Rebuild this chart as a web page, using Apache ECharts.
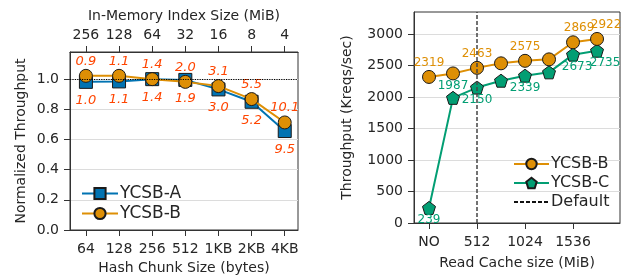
<!DOCTYPE html>
<html>
<head>
<meta charset="utf-8">
<script src="https://cdn.jsdelivr.net/npm/echarts@6/dist/echarts.min.js"></script>
<style>
  html, body { margin: 0; padding: 0; background: #fff; }
  #chart { width: 624px; height: 277px; }
</style>
</head>
<body>
<div id="chart"></div>
<script>
// left panel
var chunkSizes = ['64', '128', '256', '512', '1KB', '2KB', '4KB'];
var indexSizes = ['256', '128', '64', '32', '16', '8', '4'];
var ycsbA = [0.982, 0.985, 1.0, 0.995, 0.932, 0.85, 0.656];
var ycsbB = [1.022, 1.022, 1.0, 0.982, 0.954, 0.868, 0.713];
var ratioA = ['1.0', '1.1', '1.4', '1.9', '3.0', '5.2', '9.5'];
var ratioB = ['0.9', '1.1', '1.4', '2.0', '3.1', '5.5', '10.1'];
var leftTicks = [0, 0.2, 0.4, 0.6, 0.8, 1.0];

// right panel
var cacheSizes = [0, 256, 512, 768, 1024, 1280, 1536, 1792];
var cacheTicks = [0, 512, 1024, 1536];
var tputB = [2319, 2375, 2463, 2535, 2575, 2598, 2869, 2922];
var tputC = [239, 1987, 2150, 2259, 2339, 2392, 2673, 2735];
var textB = ['2319', null, '2463', null, '2575', null, '2869', '2922'];
var textC = ['239', '1987', '2150', null, '2339', null, '2673', '2735'];
var rightTicks = [0, 500, 1000, 1500, 2000, 2500, 3000];
var defaultCache = 512;

var FONT = 'DejaVu Sans';
var TXT = '#262626';
var EDGE = '#333';
var BLUE = '#0173B2', ORANGE = '#DE8F05', GREEN = '#029E73';
var pentagon = 'path://M0,-1 L0.951,-0.309 L0.588,0.809 L-0.588,0.809 L-0.951,-0.309 Z';

// x shift of a few labels on the right panel
var shiftB = { 6: 6, 7: 9 };
var shiftC = { 6: 4, 7: 8 };

function pairs(xs, ys) {
  return ys.map(function (v, i) { return [xs[i], v]; });
}
function labelled(xs, ys, texts, pos, shift) {
  return ys.map(function (v, i) {
    var item = { value: [xs[i], v] };
    if (texts[i]) {
      item.label = { show: true, formatter: texts[i], position: pos(i), offset: [shift[i] || 0, 0] };
    }
    return item;
  });
}

var idx = chunkSizes.map(function (c, i) { return i; });

var axisCommon = {
  axisLine: { show: true, onZero: false, lineStyle: { color: EDGE, width: 1 } },
  axisTick: { show: true, inside: false, length: 6, lineStyle: { color: EDGE } },
  axisLabel: { color: TXT, fontFamily: FONT, fontSize: 14 },
  nameTextStyle: { color: TXT, fontFamily: FONT, fontSize: 14 },
  splitLine: { show: false }
};
function ax(extra) {
  var o = JSON.parse(JSON.stringify(axisCommon));
  for (var k in extra) {
    if (typeof extra[k] === 'object' && !Array.isArray(extra[k]) && o[k]) {
      for (var j in extra[k]) o[k][j] = extra[k][j];
    } else {
      o[k] = extra[k];
    }
  }
  return o;
}

var chart = echarts.init(document.getElementById('chart'));

var option = {
  animation: false,
  textStyle: { fontFamily: FONT },
  grid: [
    { left: 70, top: 52, width: 228, height: 178, show: true, borderColor: EDGE, borderWidth: 1, backgroundColor: 'transparent', outerBoundsMode: 'none' },
    { left: 414, top: 12, width: 206, height: 211, show: true, borderColor: EDGE, borderWidth: 1, backgroundColor: 'transparent', outerBoundsMode: 'none' }
  ],
  xAxis: [
    ax({
      type: 'value', gridIndex: 0, min: -0.48, max: 6.4, position: 'bottom',
      name: 'Hash Chunk Size (bytes)', nameLocation: 'middle', nameGap: 31,
      axisTick: { customValues: idx },
      axisLabel: { customValues: idx, margin: 12, formatter: function (v) { return chunkSizes[Math.round(v)]; } }
    }),
    ax({
      type: 'value', gridIndex: 0, min: -0.48, max: 6.4, position: 'top',
      name: 'In-Memory Index Size (MiB)', nameLocation: 'middle', nameGap: 27,
      axisTick: { customValues: idx },
      axisLabel: { customValues: idx, margin: 10, formatter: function (v) { return indexSizes[Math.round(v)]; } }
    }),
    ax({
      type: 'value', gridIndex: 1, min: -160, max: 2037,
      name: 'Read Cache size (MiB)', nameLocation: 'middle', nameGap: 33,
      axisTick: { customValues: cacheTicks },
      axisLabel: { customValues: cacheTicks, margin: 12, formatter: function (v) { return v === 0 ? 'NO' : String(v); } }
    })
  ],
  yAxis: [
    ax({
      type: 'value', gridIndex: 0, min: 0, max: 1.18, interval: 0.2,
      name: 'Normalized Throughput', nameLocation: 'middle', nameGap: 42,
      axisTick: { customValues: leftTicks },
      axisLabel: { customValues: leftTicks, margin: 11, formatter: function (v) { return v.toFixed(1); } },
      splitLine: { show: true, lineStyle: { color: '#dcdcdc', width: 1 } }
    }),
    ax({
      type: 'value', gridIndex: 1, min: 0, max: 3350, interval: 500,
      name: 'Throughput (Kreqs/sec)', nameLocation: 'middle', nameGap: 60,
      axisTick: { customValues: rightTicks },
      axisLabel: { customValues: rightTicks, margin: 11, formatter: function (v) { return String(v); } },
      splitLine: { show: true, lineStyle: { color: '#dcdcdc', width: 1 } }
    })
  ],
  legend: [
    {
      data: ['YCSB-A', 'YCSB-B'], orient: 'vertical', left: 81, top: 185, padding: 0,
      itemWidth: 36, itemHeight: 14, itemGap: 3,
      textStyle: { color: TXT, fontFamily: FONT, fontSize: 17, padding: [0, 0, 0, -3] }
    },
    {
      data: ['YCSB-B', 'YCSB-C', { name: 'Default', itemStyle: { opacity: 0 } }],
      orient: 'vertical', left: 513, top: 156, padding: 0,
      itemWidth: 35, itemHeight: 13, itemGap: 3,
      textStyle: { color: TXT, fontFamily: FONT, fontSize: 16, padding: [0, 0, 0, -3] }
    }
  ],
  series: [
    {
      name: 'YCSB-A', type: 'line', xAxisIndex: 0, yAxisIndex: 0,
      data: pairs(idx, ycsbA),
      symbol: 'rect', symbolSize: 13,
      lineStyle: { color: BLUE, width: 2 },
      itemStyle: { color: BLUE, borderColor: '#1a1a1a', borderWidth: 1 },
      label: {
        show: true, position: 'bottom', distance: 5,
        color: '#FF4500', fontStyle: 'italic', fontSize: 13, fontFamily: FONT,
        formatter: function (p) { return ratioA[p.dataIndex]; }
      },
      z: 2
    },
    {
      name: 'YCSB-B', type: 'line', xAxisIndex: 0, yAxisIndex: 0,
      data: pairs(idx, ycsbB),
      symbol: 'circle', symbolSize: 13,
      lineStyle: { color: ORANGE, width: 2 },
      itemStyle: { color: ORANGE, borderColor: '#1a1a1a', borderWidth: 1 },
      label: {
        show: true, position: 'top', distance: 1,
        color: '#FF4500', fontStyle: 'italic', fontSize: 13, fontFamily: FONT,
        formatter: function (p) { return ratioB[p.dataIndex]; }
      },
      markLine: {
        silent: true, symbol: 'none',
        label: { show: false },
        lineStyle: { color: '#000', type: 'dotted', width: 1.2 },
        data: [{ yAxis: 1.0 }]
      },
      z: 3
    },
    {
      name: 'YCSB-B', type: 'line', xAxisIndex: 2, yAxisIndex: 1,
      data: labelled(cacheSizes, tputB, textB, function () { return 'top'; }, shiftB),
      symbol: 'circle', symbolSize: 13,
      lineStyle: { color: ORANGE, width: 2 },
      itemStyle: { color: ORANGE, borderColor: '#1a1a1a', borderWidth: 1 },
      label: { show: false, distance: 1, color: ORANGE, fontSize: 12, fontFamily: FONT },
      z: 3
    },
    {
      name: 'YCSB-C', type: 'line', xAxisIndex: 2, yAxisIndex: 1,
      data: labelled(cacheSizes, tputC, textC, function (i) { return i === 1 ? 'top' : 'bottom'; }, shiftC),
      symbol: pentagon, symbolSize: 13,
      lineStyle: { color: GREEN, width: 2 },
      itemStyle: { color: GREEN, borderColor: '#1a1a1a', borderWidth: 1 },
      label: { show: false, distance: -1, color: GREEN, fontSize: 12, fontFamily: FONT },
      z: 2
    },
    {
      name: 'Default', type: 'line', xAxisIndex: 2, yAxisIndex: 1,
      data: [], symbol: 'none',
      lineStyle: { color: '#111', width: 1.2, type: [4, 2] },
      itemStyle: { color: '#111' },
      markLine: {
        silent: true, symbol: 'none',
        label: { show: false },
        lineStyle: { color: '#444', width: 1.5, type: [4, 2] },
        data: [{ xAxis: defaultCache }]
      },
      z: 1
    }
  ]
};

chart.setOption(option);
</script>
</body>
</html>
